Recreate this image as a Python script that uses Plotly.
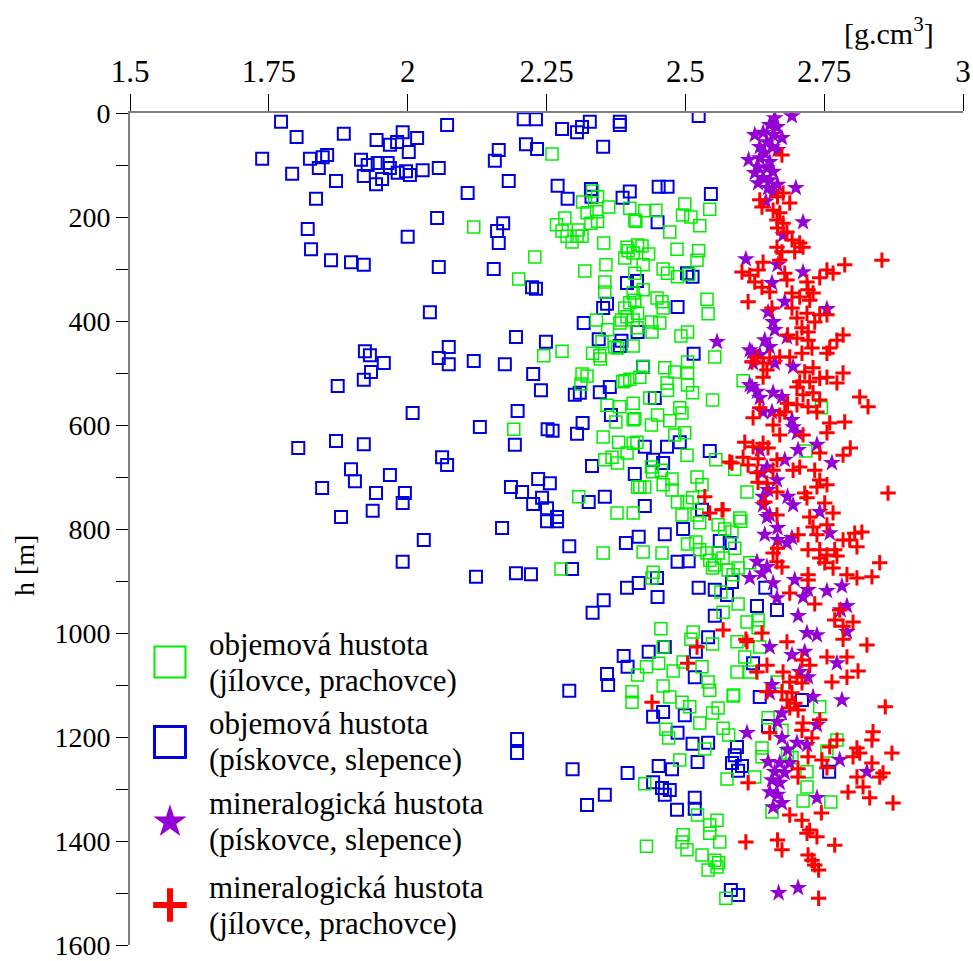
import plotly.graph_objects as go

# Density [g.cm-3] vs depth h [m] pairs for the four sample groups
sandstone_bulk = [
    (1.772, 17), (1.800, 46), (1.885, 40), (1.944, 52), (1.991, 37), (2.017, 48), (1.968, 61),
    (1.981, 56), (2.002, 75), (1.738, 88), (1.824, 88), (1.847, 85), (1.855, 81), (1.840, 106),
    (1.792, 117), (1.871, 131), (1.916, 90), (1.928, 100), (1.946, 96), (1.964, 96), (1.968, 106),
    (1.921, 121), (1.943, 137), (1.954, 127), (1.982, 115), (1.997, 112), (2.004, 119), (2.027, 110),
    (1.835, 165), (1.820, 223), (2.000, 238), (1.826, 262), (1.862, 283), (1.898, 287), (1.921, 292),
    (2.040, 383), (1.923, 458), (1.932, 466), (1.957, 481), (1.934, 498), (1.921, 513), (1.874, 525),
    (2.009, 577), (1.803, 644), (1.871, 631), (1.921, 637), (1.898, 685), (1.905, 708), (1.968, 696),
    (1.846, 721), (1.943, 731), (1.995, 731), (1.991, 750), (1.937, 765), (1.880, 777), (2.029, 821),
    (1.991, 863),
    (2.071, 23), (2.209, 12), (2.231, 12), (2.278, 31), (2.305, 37), (2.314, 27), (2.328, 17),
    (2.382, 17), (2.382, 23), (2.164, 71), (2.157, 92), (2.213, 60), (2.233, 69), (2.352, 65),
    (2.056, 106), (2.182, 131), (2.108, 154), (2.270, 140), (2.288, 165), (2.330, 146), (2.331, 161),
    (2.400, 151), (2.387, 163), (2.053, 202), (2.172, 212), (2.161, 227), (2.164, 250), (2.056, 296),
    (2.155, 300), (2.224, 335), (2.231, 338), (2.395, 327), (2.352, 375), (2.359, 367), (2.317, 404),
    (2.344, 435), (2.385, 438), (2.382, 448), (2.195, 431), (2.249, 440), (2.074, 450), (2.056, 471),
    (2.074, 483), (2.119, 477), (2.175, 483), (2.226, 502), (2.240, 533), (2.301, 542), (2.310, 538),
    (2.346, 537), (2.364, 527), (2.366, 581), (2.198, 573), (2.130, 604), (2.252, 608), (2.261, 611),
    (2.315, 596), (2.305, 617), (2.193, 638), (2.332, 679), (2.062, 662), (2.071, 677), (2.409, 694),
    (2.186, 719), (2.206, 729), (2.235, 704), (2.256, 712), (2.226, 752), (2.242, 740), (2.251, 760),
    (2.269, 777), (2.326, 748), (2.355, 738),
    (2.170, 798), (2.123, 892), (2.195, 885), (2.222, 887), (2.296, 877), (2.291, 833), (2.393, 827),
    (2.269, 785), (2.251, 785), (2.395, 913), (2.353, 937), (2.333, 961), (2.389, 1044), (2.396, 1065),
    (2.359, 1079), (2.361, 1100), (2.291, 1111), (2.197, 1204), (2.197, 1231), (2.297, 1262),
    (2.396, 1269), (2.355, 1311), (2.323, 1331),
    (2.524, 6), (2.452, 142), (2.468, 142), (2.546, 156), (2.450, 210), (2.503, 308), (2.513, 315),
    (2.413, 323), (2.486, 373), (2.414, 421), (2.515, 463), (2.424, 488), (2.445, 548), (2.427, 642),
    (2.467, 642), (2.490, 633), (2.544, 650), (2.442, 667), (2.460, 673), (2.427, 756), (2.530, 763),
    (2.496, 800), (2.463, 810), (2.416, 815), (2.486, 863), (2.506, 862), (2.562, 823), (2.580, 827),
    (2.584, 902), (2.449, 894), (2.416, 904), (2.450, 931), (2.524, 913), (2.553, 917), (2.575, 927),
    (2.553, 967), (2.629, 948), (2.541, 1008), (2.519, 1036), (2.463, 1027), (2.434, 1036),
    (2.517, 1085), (2.442, 1161), (2.460, 1152), (2.499, 1158), (2.486, 1192), (2.513, 1213),
    (2.541, 1211), (2.593, 1219), (2.589, 1235), (2.584, 1250), (2.602, 1256), (2.522, 1248),
    (2.452, 1256), (2.476, 1262), (2.442, 1287), (2.458, 1298), (2.472, 1302), (2.463, 1311),
    (2.485, 1340), (2.517, 1317), (2.517, 1338), (2.582, 1494), (2.595, 1504),
    (2.644, 913), (2.665, 956), (2.622, 1058), (2.634, 1123), (2.710, 1129), (2.649, 1179),
    (2.595, 1265), (2.759, 1267),
]

shale_bulk = [
    (2.260, 79), (2.333, 150), (2.342, 161), (2.315, 171), (2.362, 181), (2.323, 192), (2.340, 190),
    (2.342, 208), (2.330, 212), (2.283, 202), (2.268, 215), (2.278, 227), (2.287, 237), (2.296, 248),
    (2.307, 225), (2.314, 237), (2.305, 237), (2.353, 250), (2.400, 183), (2.409, 206), (2.119, 219),
    (2.229, 277), (2.319, 304), (2.357, 292), (2.200, 319), (2.355, 325), (2.355, 344), (2.395, 258),
    (2.406, 269), (2.391, 279), (2.409, 308), (2.406, 346), (2.400, 365), (2.395, 392), (2.406, 398),
    (2.385, 398), (2.340, 398), (2.360, 417), (2.350, 440), (2.333, 462), (2.346, 467), (2.347, 473),
    (2.373, 450), (2.378, 452), (2.406, 448), (2.278, 458), (2.245, 467), (2.314, 502), (2.323, 506),
    (2.312, 521), (2.387, 517), (2.400, 512), (2.359, 562), (2.382, 565), (2.375, 594), (2.406, 590),
    (2.406, 558), (2.191, 608), (2.352, 623), (2.380, 633), (2.406, 635), (2.395, 654), (2.355, 667),
    (2.378, 673), (2.368, 662), (2.414, 719), (2.308, 738), (2.377, 769), (2.406, 769),
    (2.276, 877), (2.352, 846), (2.404, 1113), (2.404, 1133),
    (2.427, 188), (2.447, 187), (2.411, 208), (2.499, 175), (2.495, 196), (2.510, 200), (2.544, 185),
    (2.526, 217), (2.472, 229), (2.414, 254), (2.422, 256), (2.434, 271), (2.397, 265), (2.485, 262),
    (2.524, 265), (2.521, 283), (2.424, 292), (2.460, 300), (2.468, 308), (2.486, 315), (2.506, 310),
    (2.424, 340), (2.409, 360), (2.449, 356), (2.458, 363), (2.460, 375), (2.539, 358), (2.541, 386),
    (2.391, 375), (2.414, 385), (2.439, 402), (2.454, 404), (2.382, 404), (2.413, 413), (2.440, 421),
    (2.492, 429), (2.504, 421), (2.504, 479), (2.553, 469), (2.504, 500), (2.481, 498), (2.463, 490),
    (2.424, 488), (2.418, 508), (2.391, 515), (2.467, 519), (2.468, 533), (2.504, 523), (2.513, 538),
    (2.549, 552), (2.604, 515), (2.436, 548), (2.409, 588), (2.439, 600), (2.450, 581), (2.472, 592),
    (2.490, 567), (2.494, 577), (2.413, 633), (2.481, 619), (2.499, 615), (2.503, 658), (2.555, 667),
    (2.589, 685), (2.439, 681), (2.441, 690), (2.457, 687), (2.427, 719), (2.418, 719), (2.460, 715),
    (2.476, 725), (2.476, 704), (2.521, 700), (2.530, 715), (2.486, 748), (2.503, 748), (2.513, 740),
    (2.611, 729), (2.494, 773), (2.598, 779),
    (2.521, 773), (2.526, 788), (2.600, 785), (2.559, 792), (2.571, 800), (2.584, 806), (2.424, 844),
    (2.458, 846), (2.504, 829), (2.519, 825), (2.526, 840), (2.539, 846), (2.544, 860), (2.553, 869),
    (2.559, 846), (2.568, 856), (2.549, 875), (2.589, 837), (2.577, 879), (2.586, 888), (2.595, 875),
    (2.616, 865), (2.442, 883), (2.440, 894), (2.564, 921), (2.568, 960), (2.595, 944), (2.611, 979),
    (2.631, 975), (2.631, 990), (2.593, 1017), (2.456, 992), (2.514, 998), (2.510, 1012), (2.549, 1021),
    (2.460, 1027), (2.430, 1065), (2.452, 1058), (2.478, 1073), (2.496, 1056), (2.530, 1065),
    (2.541, 1094), (2.544, 1110), (2.414, 1081), (2.460, 1102), (2.472, 1123), (2.494, 1133),
    (2.508, 1142), (2.526, 1173), (2.549, 1154), (2.559, 1144), (2.587, 1119), (2.465, 1185),
    (2.470, 1202), (2.568, 1183), (2.578, 1196), (2.535, 1223), (2.490, 1244), (2.427, 1290),
    (2.575, 1281), (2.625, 1277), (2.522, 1350), (2.557, 1360), (2.544, 1369), (2.544, 1385),
    (2.562, 1402), (2.496, 1388), (2.494, 1402), (2.503, 1417), (2.430, 1410), (2.530, 1427),
    (2.553, 1437), (2.557, 1450), (2.541, 1456), (2.573, 1510), (2.656, 1344), (2.649, 1163),
    (2.634, 1027), (2.607, 1046), (2.593, 1075), (2.616, 1075), (2.586, 1121), (2.665, 1094),
    (2.742, 1142), (2.674, 1187), (2.638, 1221), (2.638, 1238), (2.684, 1231), (2.692, 1240),
    (2.719, 1267), (2.719, 1296), (2.712, 1323), (2.762, 1325), (2.755, 1227), (2.773, 1206),
    (2.560, 1442), (2.745, 567), (2.717, 650),
]

sandstone_grain = [
    (2.692, 6), (2.661, 10), (2.652, 23), (2.665, 27), (2.625, 42), (2.640, 38), (2.658, 42),
    (2.674, 48), (2.647, 56), (2.634, 65), (2.656, 65), (2.666, 71), (2.643, 77), (2.614, 90),
    (2.634, 87), (2.652, 94), (2.631, 104), (2.647, 106), (2.658, 113), (2.625, 115), (2.640, 125),
    (2.652, 129), (2.631, 135), (2.666, 138), (2.649, 144), (2.699, 144), (2.658, 154), (2.645, 170),
    (2.712, 210), (2.676, 235), (2.609, 281), (2.666, 292), (2.712, 306), (2.656, 327), (2.679, 363),
    (2.755, 377), (2.649, 383), (2.658, 402), (2.661, 417), (2.683, 431), (2.643, 437), (2.652, 450),
    (2.616, 456), (2.634, 465), (2.622, 481), (2.694, 488), (2.661, 481), (2.616, 523), (2.629, 536),
    (2.658, 538), (2.674, 546), (2.634, 548), (2.656, 575), (2.692, 590), (2.694, 604), (2.701, 615),
    (2.703, 648), (2.737, 638), (2.764, 673), (2.679, 667), (2.634, 648), (2.647, 681), (2.638, 692),
    (2.665, 706), (2.649, 725), (2.684, 738), (2.694, 754), (2.640, 754), (2.742, 767), (2.647, 777),
    (2.557, 440), (2.620, 460), (2.620, 527), (2.640, 575), (2.640, 738),
    (2.652, 773), (2.666, 798), (2.643, 811), (2.666, 821), (2.683, 827), (2.692, 817), (2.760, 808),
    (2.629, 863), (2.647, 873), (2.638, 885), (2.616, 894), (2.658, 904), (2.665, 933), (2.697, 898),
    (2.712, 931), (2.721, 917), (2.755, 919), (2.782, 910), (2.791, 948), (2.780, 956), (2.703, 967),
    (2.791, 998), (2.719, 1000), (2.737, 1004), (2.652, 1027), (2.692, 1042), (2.715, 1036),
    (2.773, 1058), (2.721, 1085), (2.706, 1075), (2.656, 1100), (2.652, 1115), (2.730, 1123),
    (2.782, 1129), (2.674, 1154), (2.666, 1171), (2.737, 1177), (2.611, 1192), (2.674, 1202),
    (2.701, 1211), (2.719, 1215), (2.684, 1225), (2.649, 1248), (2.670, 1250), (2.688, 1250),
    (2.661, 1267), (2.679, 1269), (2.656, 1283), (2.670, 1288), (2.652, 1306), (2.666, 1311),
    (2.674, 1327), (2.658, 1335), (2.778, 1244), (2.827, 1267), (2.737, 1317), (2.668, 1500),
    (2.703, 1490),
]

shale_grain = [
    (2.674, 81), (2.634, 167), (2.638, 181), (2.666, 161), (2.676, 154), (2.688, 173), (2.658, 187),
    (2.670, 192), (2.665, 206), (2.676, 212), (2.666, 221), (2.683, 229), (2.692, 244), (2.706, 250),
    (2.665, 258), (2.674, 267), (2.697, 267), (2.712, 258), (2.854, 283), (2.640, 287), (2.670, 283),
    (2.602, 306), (2.616, 312), (2.631, 302), (2.625, 325), (2.638, 335), (2.652, 344), (2.679, 308),
    (2.683, 321), (2.719, 325), (2.742, 317), (2.755, 302), (2.766, 308), (2.787, 292), (2.613, 363),
    (2.656, 375), (2.692, 346), (2.706, 354), (2.721, 340), (2.724, 360), (2.730, 346), (2.692, 375),
    (2.719, 385), (2.742, 388), (2.755, 388), (2.701, 394), (2.733, 402), (2.710, 413), (2.721, 421),
    (2.684, 427), (2.701, 433), (2.784, 427), (2.773, 437), (2.721, 437), (2.728, 452), (2.760, 452),
    (2.755, 462), (2.710, 462), (2.688, 469), (2.670, 469), (2.652, 471), (2.629, 471), (2.620, 479),
    (2.640, 481), (2.647, 494), (2.640, 508), (2.784, 500), (2.715, 498), (2.730, 490), (2.742, 510),
    (2.724, 517), (2.755, 508), (2.773, 519), (2.706, 517), (2.701, 527), (2.712, 542), (2.730, 538),
    (2.814, 546), (2.829, 565), (2.742, 552), (2.684, 558), (2.701, 561), (2.721, 565), (2.634, 567),
    (2.622, 586), (2.670, 581), (2.679, 575), (2.737, 575), (2.787, 594), (2.760, 596), (2.658, 600),
    (2.755, 615), (2.712, 619), (2.670, 619), (2.797, 644), (2.784, 658), (2.742, 654), (2.607, 633),
    (2.622, 642), (2.640, 635), (2.649, 644), (2.580, 671), (2.604, 662), (2.613, 677), (2.631, 665),
    (2.665, 667), (2.658, 687), (2.694, 687), (2.706, 681), (2.733, 687), (2.629, 692), (2.647, 712),
    (2.631, 710), (2.665, 729), (2.742, 706), (2.755, 715), (2.737, 719), (2.715, 731), (2.719, 740),
    (2.865, 731), (2.643, 748), (2.751, 750), (2.568, 763), (2.665, 773), (2.766, 769), (2.724, 777),
    (2.730, 796), (2.755, 792), (2.703, 811), (2.737, 811), (2.805, 808), (2.818, 806), (2.784, 821),
    (2.796, 821), (2.809, 834), (2.666, 837), (2.658, 846), (2.721, 840), (2.742, 840), (2.755, 850),
    (2.769, 840), (2.773, 852), (2.665, 863), (2.674, 873), (2.742, 856), (2.751, 865), (2.766, 875),
    (2.791, 888), (2.809, 894), (2.836, 892), (2.850, 865), (2.721, 888), (2.721, 898), (2.688, 923),
    (2.733, 944), (2.778, 956), (2.769, 975), (2.802, 979), (2.784, 987), (2.784, 1012), (2.683, 1017),
    (2.638, 1000), (2.611, 1017), (2.827, 1023), (2.755, 1046), (2.791, 1046), (2.710, 1052),
    (2.724, 1062), (2.647, 1062), (2.629, 1075), (2.811, 1073), (2.764, 1094), (2.791, 1085),
    (2.676, 1075), (2.701, 1085), (2.688, 1094), (2.710, 1096), (2.647, 1113), (2.674, 1113),
    (2.692, 1115), (2.683, 1129), (2.697, 1135), (2.688, 1144), (2.703, 1148), (2.860, 1142),
    (2.742, 1167), (2.712, 1173), (2.710, 1187), (2.652, 1192), (2.728, 1202), (2.838, 1190),
    (2.836, 1206), (2.773, 1206), (2.760, 1219), (2.809, 1221), (2.814, 1231), (2.802, 1238),
    (2.836, 1250), (2.872, 1231), (2.721, 1238), (2.746, 1244), (2.755, 1259), (2.703, 1261),
    (2.856, 1269), (2.850, 1277), (2.809, 1277), (2.820, 1296), (2.793, 1306), (2.832, 1317),
    (2.874, 1327), (2.613, 1288), (2.703, 1277), (2.745, 1346), (2.688, 1350), (2.710, 1360),
    (2.724, 1379), (2.719, 1385), (2.737, 1392), (2.609, 1402), (2.666, 1398), (2.674, 1417),
    (2.769, 1408), (2.721, 1427), (2.728, 1437), (2.733, 1446), (2.740, 1456), (2.740, 1510),
    (2.584, 673), (2.535, 738), (2.544, 769), (2.566, 763), (2.568, 994), (2.609, 1012), (2.521, 1027),
    (2.504, 1058), (2.440, 1133),
]

legend_lines = [
    ("objemová hustota", "(jílovce, prachovce)"),
    ("objemová hustota", "(pískovce, slepence)"),
    ("mineralogická hustota", "(pískovce, slepence)"),
    ("mineralogická hustota", "(jílovce, prachovce)"),
]

GREEN = "#00ee00"
BLUE = "#0000dd"
PURPLE = "#9400d3"
RED = "#ff0000"
FONT = "Liberation Serif"

W, H = 973, 961
L, R, T, B = 130, 10, 113, 16
PW, PH = W - L - R, H - T - B


def px_to_paper(x_px, y_px):
    return (x_px - L) / PW, 1 - (y_px - T) / PH


fig = go.Figure()


def add_series(points, symbol, size, color, line_width, filled):
    rho, h = zip(*points)
    marker = dict(symbol=symbol, size=size)
    if filled:
        marker.update(color=color, line=dict(width=0))
    else:
        marker.update(color=color, line=dict(color=color, width=line_width))
    fig.add_trace(go.Scatter(x=list(rho), y=list(h), mode="markers", marker=marker,
                             showlegend=False, hoverinfo="x+y"))


add_series(sandstone_bulk, "square-open", 12, BLUE, 2, False)
add_series(shale_bulk, "square-open", 12, GREEN, 1.5, False)
add_series(sandstone_grain, "star", 13.5, PURPLE, 0, True)
add_series(shale_grain, "cross-thin-open", 11, RED, 3, False)

# Hand-drawn legend on a hidden unit overlay so that the symbols can be large
leg_x = 0.048
leg_y = [0.340, 0.244, 0.148, 0.048]
leg_styles = [
    dict(symbol="square-open", size=31, color=GREEN, line=dict(color=GREEN, width=2)),
    dict(symbol="square-open", size=31, color=BLUE, line=dict(color=BLUE, width=3)),
    dict(symbol="star", size=25, color=PURPLE, line=dict(width=0)),
    dict(symbol="cross-thin-open", size=24, color=RED, line=dict(color=RED, width=6)),
]
for yy, st in zip(leg_y, leg_styles):
    fig.add_trace(go.Scatter(x=[leg_x], y=[yy], mode="markers", marker=st, xaxis="x2",
                             yaxis="y2", showlegend=False, hoverinfo="skip"))

# two text lines per legend entry, 36 px apart
line_offset = 18 / PH
for yy, (first, second) in zip(leg_y, legend_lines):
    for text, dy in ((first, line_offset), (second, -line_offset)):
        fig.add_annotation(x=0.092, y=yy + dy, xref="x2", yref="y2", text=text,
                           showarrow=False, xanchor="left", yanchor="middle", align="left",
                           font=dict(family=FONT, size=31, color="black"))

ux, uy = px_to_paper(889, 31)
fig.add_annotation(x=ux, y=uy, xref="paper", yref="paper", text="[g.cm<sup>3</sup>]",
                   xanchor="center", yanchor="middle",
                   showarrow=False, font=dict(family=FONT, size=30, color="black"))
hx, hy = px_to_paper(24, 566)
fig.add_annotation(x=hx, y=hy, xref="paper", yref="paper", text="h [m]", textangle=-90,
                   xanchor="center", yanchor="middle",
                   showarrow=False, font=dict(family=FONT, size=28, color="black"))

fig.update_layout(
    width=W, height=H,
    margin=dict(l=L, r=R, t=T, b=B, autoexpand=False),
    paper_bgcolor="white", plot_bgcolor="white",
    font=dict(family=FONT, size=28, color="black"),
    xaxis=dict(side="top", range=[1.5, 3], tickvals=[1.5, 1.75, 2, 2.25, 2.5, 2.75, 3],
               ticktext=["1.5", "1.75", "2", "2.25", "2.5", "2.75", "3"],
               tickfont=dict(family=FONT, size=31, color="black"),
               ticks="outside", ticklen=17, tickcolor="black", tickwidth=1,
               showline=True, linecolor="#808080", linewidth=2, showgrid=False,
               zeroline=False, automargin=False),
    yaxis=dict(range=[1600, 0], tickvals=list(range(0, 1601, 200)),
               ticktext=[str(v) for v in range(0, 1601, 200)],
               ticks="outside", ticklen=12, tickcolor="black",
               tickfont=dict(family=FONT, size=28, color="black"), ticklabeloverflow="allow",
               tickwidth=1, showline=True, linecolor="#808080", linewidth=2, showgrid=False,
               zeroline=False, automargin=False,
               minor=dict(dtick=100, ticks="outside", ticklen=12, tickcolor="black",
                          showgrid=False)),
    xaxis2=dict(range=[0, 1], overlaying="x", visible=False),
    yaxis2=dict(range=[0, 1], overlaying="y", visible=False),
)

fig.write_html("out.html")
